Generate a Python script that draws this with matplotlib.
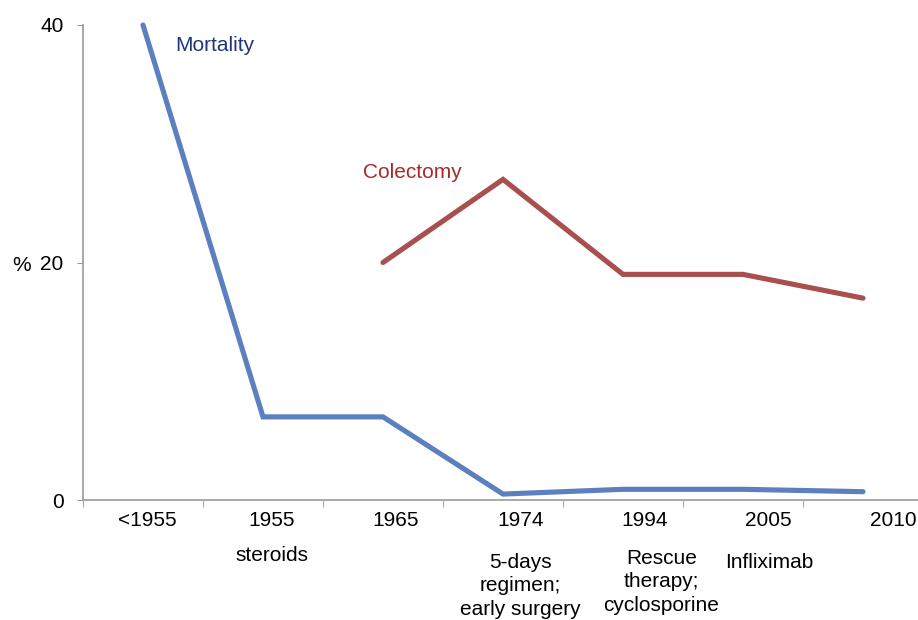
import numpy as np
import matplotlib
matplotlib.use('Agg')
import matplotlib.pyplot as plt

plt.rcParams['font.family'] = ['Liberation Sans', 'DejaVu Sans']

# Data.
periods = ['<1955', '1955', '1965', '1974', '1994', '2005', '2010']
mortality = [40, 7, 7, 0.5, 0.9, 0.9, 0.7]
colectomy = [np.nan, np.nan, 20, 27, 19, 19, 17]
treatments = ['', 'steroids', '', '5-days\nregimen;\nearly surgery',
              'Rescue\ntherapy;\ncyclosporine', 'Infliximab', '']

x = np.arange(len(periods))

fig = plt.figure(figsize=(9.18, 6.2), dpi=100)
ax = fig.add_axes([83 / 918, 1 - 500 / 620, 840 / 918, 475 / 620])

ax.plot(x, mortality, color='#5B7FBF', lw=3.7, solid_capstyle='round',
        solid_joinstyle='miter', clip_on=False)
ax.plot(x, colectomy, color='#A94F4D', lw=3.7, solid_capstyle='round',
        solid_joinstyle='miter', clip_on=False)

ax.set_xlim(-0.5, len(periods) - 0.5)
ax.set_ylim(0, 40)

# Category borders get the tick marks, labels sit slightly to the right.
label_pos = x * 1.036 + 0.035
ax.set_xticks(np.arange(len(periods)) - 0.5, minor=True)
ax.set_xticks(label_pos)
ax.set_xticklabels(periods, fontsize=15)
ax.tick_params(axis='x', which='major', length=0, pad=8)
ax.tick_params(axis='x', which='minor', length=5, color='#999999')

ax.set_yticks([0, 20, 40])
ax.tick_params(axis='y', length=4, color='#999999', labelsize=15, pad=10)

for side in ['top', 'right']:
    ax.spines[side].set_visible(False)
for side in ['left', 'bottom']:
    ax.spines[side].set_color('#999999')
    ax.spines[side].set_linewidth(1.2)

fig.text(22 / 918, 1 - 265 / 620, '%', ha='center', va='center', fontsize=15)

ax.text(0.27, 38.3, 'Mortality', color='#22357A', fontsize=15,
        ha='left', va='center')
ax.text(1.83, 27.6, 'Colectomy', color='#A52A2A', fontsize=15,
        ha='left', va='center')

# Treatment notes under the year labels.
note_offset = [0, -33, 0, -38, -35, -38, 0]
note_shift = [0, 0, 0, 0, 0.14, 0, 0]
for i, note in enumerate(treatments):
    if not note:
        continue
    ax.annotate(note, xy=(label_pos[i] + note_shift[i], 0),
                xycoords=('data', 'axes fraction'),
                xytext=(0, note_offset[i]), textcoords='offset points',
                ha='center', va='top', fontsize=15, linespacing=1.3,
                annotation_clip=False)

fig.savefig('out.png', dpi=100)
